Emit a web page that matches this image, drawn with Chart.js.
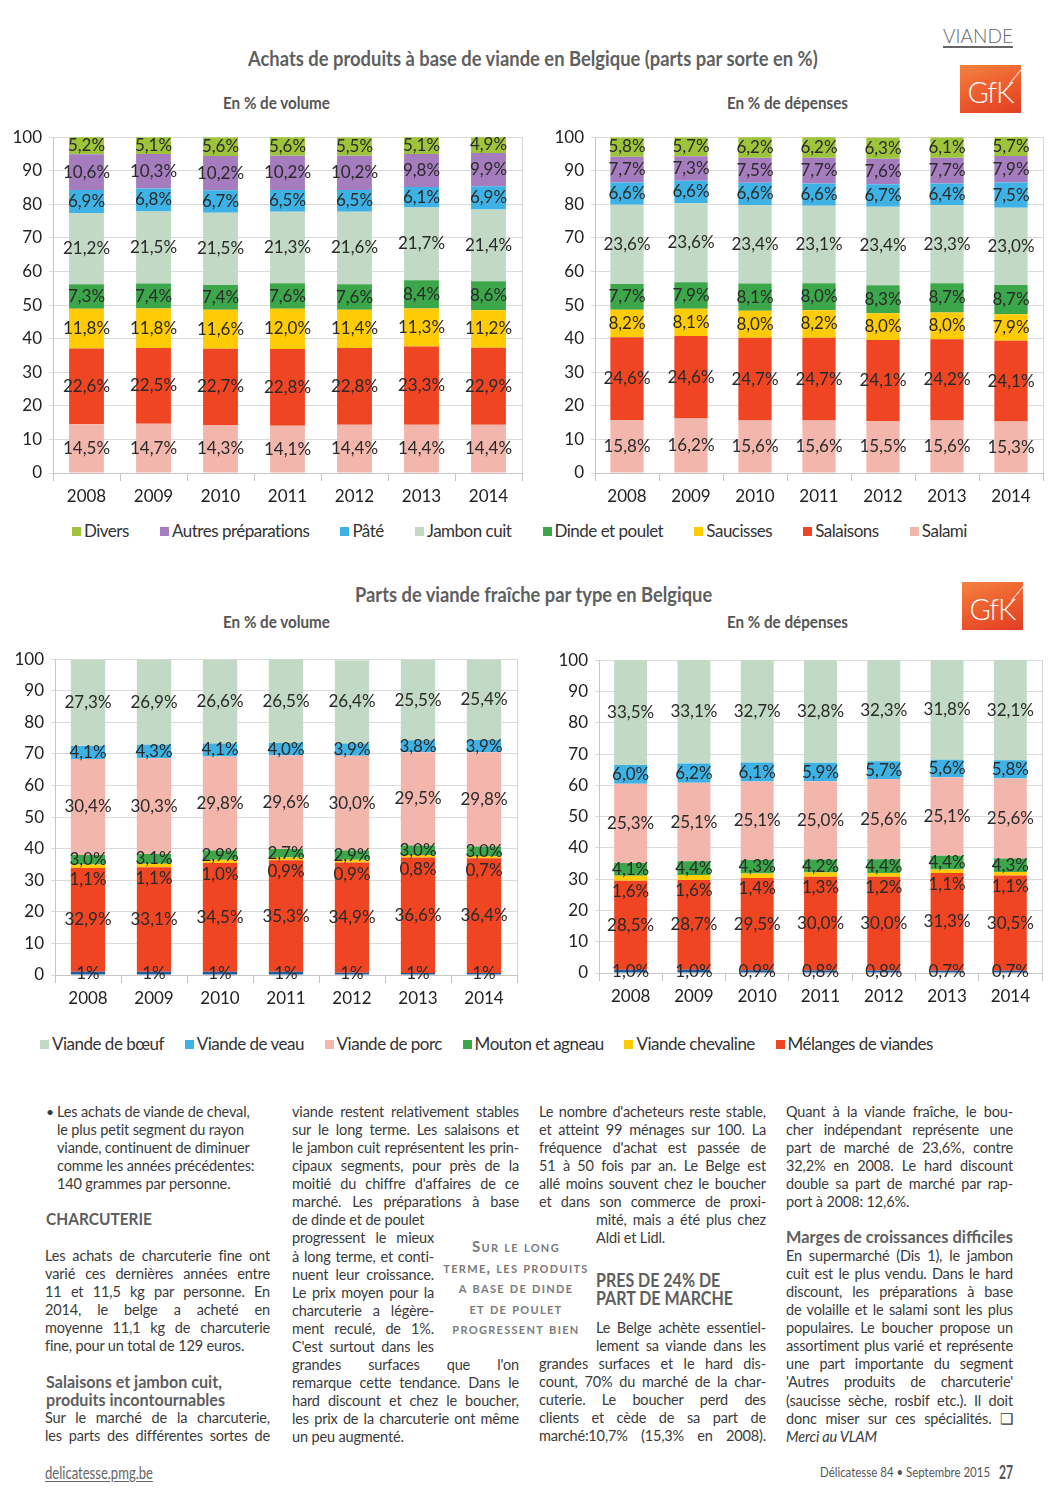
<!DOCTYPE html>
<html lang="fr">
<head>
<meta charset="utf-8">
<title>Viande - Délicatesse 84</title>
<script src="https://cdn.jsdelivr.net/npm/chart.js@4.4.1/dist/chart.umd.min.js"></script>
<style>
html, body { margin: 0; padding: 0; background: #fff; }
#page { position: relative; width: 1058px; height: 1496px; overflow: hidden; font-family: Lato, "Noto Sans", sans-serif; color: #333; }
.t { position: absolute; white-space: nowrap; line-height: 1; }
canvas { position: absolute; }
.ttl { font-size: 21px; font-weight: bold; color: #5f5f5f; }
.sub { font-size: 17px; font-weight: bold; color: #555; }
.gfk { position: absolute; width: 61px; height: 48px; background: linear-gradient(160deg, #f4823f 0%, #ec5a2c 55%, #e23d24 100%); overflow: hidden; }
.gfk span { position: absolute; left: 0; right: 0; top: 9px; text-align: center; color: #fff; font: 300 29px Lato, sans-serif; letter-spacing: -1px; }
.gfk i { position: absolute; right: 3px; top: -4px; width: 1px; height: 26px; background: #fde3d6; transform: rotate(40deg); }
.legend { position: absolute; display: flex; justify-content: space-between; white-space: nowrap; font-size: 17px; letter-spacing: -0.5px; color: #333; }
.legend .it { display: flex; align-items: center; }
.legend .sw { width: 9px; height: 9px; margin-right: 3px; margin-top: 1px; }
.col { position: absolute; width: 227px; font-size: 14.5px; line-height: 18.07px; color: #3a3a3a; letter-spacing: -0.15px; }
.col div { white-space: nowrap; overflow: visible; }
.col .j { text-align: justify; text-align-last: justify; }
.col .n { width: 142px; }
.col .in { margin-left: 57px; }
.hd { position: absolute; white-space: nowrap; font-weight: bold; color: #5e5e5e; font-size: 17.5px; line-height: 18px; }
.quote { position: absolute; left: 436px; width: 160px; text-align: center; font-weight: bold; font-variant: small-caps; color: #7a7a7a; font-size: 15px; line-height: 20.5px; letter-spacing: 1.3px; }
</style>
</head>
<body>
<div id="page">
  <div class="t" data-w="70" style="left:943px;top:25px;font-size:20px;font-weight:300;color:#666;text-decoration:underline;text-underline-offset:3px;">VIANDE</div>

  <div class="t ttl" data-w="570" style="left:248px;top:47px;">Achats de produits à base de viande en Belgique (parts par sorte en %)</div>
  <div class="t sub" data-w="107" style="left:223px;top:94px;">En % de volume</div>
  <div class="t sub" data-w="121" style="left:727px;top:94px;">En % de dépenses</div>
  <div class="gfk" style="left:960px;top:65px;"><i></i><span>GfK</span></div>

  <canvas id="charcVol"></canvas>
  <canvas id="charcDep"></canvas>
  <div class="legend" id="legendTop" style="left:72px;top:520px;width:895px;"></div>

  <div class="t ttl" data-w="357" style="left:355px;top:583px;">Parts de viande fraîche par type en Belgique</div>
  <div class="t sub" data-w="107" style="left:223px;top:613px;">En % de volume</div>
  <div class="t sub" data-w="121" style="left:727px;top:613px;">En % de dépenses</div>
  <div class="gfk" style="left:962px;top:582px;"><i></i><span>GfK</span></div>

  <canvas id="freshVol"></canvas>
  <canvas id="freshDep"></canvas>
  <div class="legend" id="legendBottom" style="left:40px;top:1033px;width:893px;"></div>

  <!-- colonne 1 -->
  <div class="t" style="left:46px;top:1103px;font-size:14px;line-height:18px;color:#3a3a3a;">•</div>
  <div class="col" style="left:57px;top:1103px;width:215px;">
    <div>Les achats de viande de cheval,</div>
    <div>le plus petit segment du rayon</div>
    <div>viande, continuent de diminuer</div>
    <div>comme les années précédentes:</div>
    <div>140 grammes par personne.</div>
  </div>
  <div class="hd" data-w="106" style="left:46px;top:1210px;">CHARCUTERIE</div>
  <div class="col" style="left:45px;top:1247px;width:225px;">
    <div class="j">Les achats de charcuterie fine ont</div>
    <div class="j">varié ces dernières années entre</div>
    <div class="j">11 et 11,5 kg par personne. En</div>
    <div class="j">2014, le belge a acheté en</div>
    <div class="j">moyenne 11,1 kg de charcuterie</div>
    <div>fine, pour un total de 129 euros.</div>
  </div>
  <div class="hd" data-w="179" style="left:46px;top:1373px;">Salaisons et jambon cuit,<br>produits incontournables</div>
  <div class="col" style="left:45px;top:1409px;width:225px;">
    <div class="j">Sur le marché de la charcuterie,</div>
    <div class="j">les parts des différentes sortes de</div>
  </div>

  <!-- colonne 2 -->
  <div class="col" style="left:292px;top:1103px;">
    <div class="j">viande restent relativement stables</div>
    <div class="j">sur le long terme. Les salaisons et</div>
    <div class="j">le jambon cuit représentent les prin-</div>
    <div class="j">cipaux segments, pour près de la</div>
    <div class="j">moitié du chiffre d'affaires de ce</div>
    <div class="j">marché. Les préparations à base</div>
    <div class="n">de dinde et de poulet</div>
    <div class="j n">progressent le mieux</div>
    <div class="j n">à long terme, et conti-</div>
    <div class="j n">nuent leur croissance.</div>
    <div class="j n">Le prix moyen pour la</div>
    <div class="j n">charcuterie a légère-</div>
    <div class="j n">ment reculé, de 1%.</div>
    <div class="j n">C'est surtout dans les</div>
    <div class="j">grandes surfaces que l'on</div>
    <div class="j">remarque cette tendance. Dans le</div>
    <div class="j">hard discount et chez le boucher,</div>
    <div class="j">les prix de la charcuterie ont même</div>
    <div>un peu augmenté.</div>
  </div>
  <div class="quote" style="top:1236px;">
    Sur le long<br>terme, les produits<br>a base de dinde<br>et de poulet<br>progressent bien
  </div>

  <!-- colonne 3 -->
  <div class="col" style="left:539px;top:1103px;">
    <div class="j">Le nombre d'acheteurs reste stable,</div>
    <div class="j">et atteint 99 ménages sur 100. La</div>
    <div class="j">fréquence d'achat est passée de</div>
    <div class="j">51 à 50 fois par an. Le Belge est</div>
    <div class="j">allé moins souvent chez le boucher</div>
    <div class="j">et dans son commerce de proxi-</div>
    <div class="j in" style="width:170px;">mité, mais a été plus chez</div>
    <div class="in">Aldi et Lidl.</div>
  </div>
  <div class="hd" data-w="137" style="left:596px;top:1271px;font-size:18.5px;">PRES DE 24% DE<br>PART DE MARCHE</div>
  <div class="col" style="left:539px;top:1319px;">
    <div class="j in" style="width:170px;">Le Belge achète essentiel-</div>
    <div class="j in" style="width:170px;">lement sa viande dans les</div>
    <div class="j">grandes surfaces et le hard dis-</div>
    <div class="j">count, 70% du marché de la char-</div>
    <div class="j">cuterie. Le boucher perd des</div>
    <div class="j">clients et cède de sa part de</div>
    <div class="j">marché:10,7% (15,3% en 2008).</div>
  </div>

  <!-- colonne 4 -->
  <div class="col" style="left:786px;top:1103px;">
    <div class="j">Quant à la viande fraîche, le bou-</div>
    <div class="j">cher indépendant représente une</div>
    <div class="j">part de marché de 23,6%, contre</div>
    <div class="j">32,2% en 2008. Le hard discount</div>
    <div class="j">double sa part de marché par rap-</div>
    <div>port à 2008: 12,6%.</div>
  </div>
  <div class="hd" data-w="227" style="left:786px;top:1228px;">Marges de croissances difficiles</div>
  <div class="col" style="left:786px;top:1247px;">
    <div class="j">En supermarché (Dis 1), le jambon</div>
    <div class="j">cuit est le plus vendu. Dans le hard</div>
    <div class="j">discount, les préparations à base</div>
    <div class="j">de volaille et le salami sont les plus</div>
    <div class="j">populaires. Le boucher propose un</div>
    <div class="j">assortiment plus varié et représente</div>
    <div class="j">une part importante du segment</div>
    <div class="j">'Autres produits de charcuterie'</div>
    <div class="j">(saucisse sèche, rosbif etc.). Il doit</div>
    <div class="j">donc miser sur ces spécialités. ❑</div>
    <div style="font-style:italic;">Merci au VLAM</div>
  </div>

  <div class="t" data-w="108" style="left:45px;top:1463px;font-size:18px;color:#666;text-decoration:underline;text-underline-offset:2px;">delicatesse.pmg.be</div>
  <div class="t" data-w="170" style="left:820px;top:1466px;font-size:13px;color:#555;">Délicatesse 84 • Septembre 2015</div>
  <div class="t" data-w="14" style="left:999px;top:1462px;font-size:19px;font-weight:bold;color:#555;">27</div>
</div>

<script>
// années et graduations
const years = ['2008', '2009', '2010', '2011', '2012', '2013', '2014'];
const yTickValues = [0, 10, 20, 30, 40, 50, 60, 70, 80, 90, 100];

// charcuterie, du bas vers le haut de la pile
const charcNames = ['Salami', 'Salaisons', 'Saucisses', 'Dinde et poulet', 'Jambon cuit', 'Pâté', 'Autres préparations', 'Divers'];
const charcColors = ['#f3b6ad', '#ef4523', '#ffcb05', '#3ba64a', '#c1d9c5', '#3fb2e5', '#a57cbd', '#9dc43b'];

// en % de volume
const salamiVol    = [14.5, 14.7, 14.3, 14.1, 14.4, 14.4, 14.4];
const salaisonsVol = [22.6, 22.5, 22.7, 22.8, 22.8, 23.3, 22.9];
const saucissesVol = [11.8, 11.8, 11.6, 12.0, 11.4, 11.3, 11.2];
const dindeVol     = [7.3, 7.4, 7.4, 7.6, 7.6, 8.4, 8.6];
const jambonVol    = [21.2, 21.5, 21.5, 21.3, 21.6, 21.7, 21.4];
const pateVol      = [6.9, 6.8, 6.7, 6.5, 6.5, 6.1, 6.9];
const autresVol    = [10.6, 10.3, 10.2, 10.2, 10.2, 9.8, 9.9];
const diversVol    = [5.2, 5.1, 5.6, 5.6, 5.5, 5.1, 4.9];

// en % de dépenses
const salamiDep    = [15.8, 16.2, 15.6, 15.6, 15.5, 15.6, 15.3];
const salaisonsDep = [24.6, 24.6, 24.7, 24.7, 24.1, 24.2, 24.1];
const saucissesDep = [8.2, 8.1, 8.0, 8.2, 8.0, 8.0, 7.9];
const dindeDep     = [7.7, 7.9, 8.1, 8.0, 8.3, 8.7, 8.7];
const jambonDep    = [23.6, 23.6, 23.4, 23.1, 23.4, 23.3, 23.0];
const pateDep      = [6.6, 6.6, 6.6, 6.6, 6.7, 6.4, 7.5];
const autresDep    = [7.7, 7.3, 7.5, 7.7, 7.6, 7.7, 7.9];
const diversDep    = [5.8, 5.7, 6.2, 6.2, 6.3, 6.1, 5.7];

// viande fraîche, du bas vers le haut (la première série n'est pas dans la légende)
const freshNames = ['', 'Mélanges de viandes', 'Viande chevaline', 'Mouton et agneau', 'Viande de porc', 'Viande de veau', 'Viande de bœuf'];
const freshColors = ['#1f5c9e', '#ef4523', '#ffcb05', '#3ba64a', '#f3b6ad', '#3fb2e5', '#c1d9c5'];

const autreVol     = [1.0, 1.0, 1.0, 1.0, 0.7, 0.6, 0.6];
const melangesVol  = [32.9, 33.1, 34.5, 35.3, 34.9, 36.6, 36.4];
const chevalineVol = [1.1, 1.1, 1.0, 0.9, 0.9, 0.8, 0.7];
const moutonVol    = [3.0, 3.1, 2.9, 2.7, 2.9, 3.0, 3.0];
const porcVol      = [30.4, 30.3, 29.8, 29.6, 30.0, 29.5, 29.8];
const veauVol      = [4.1, 4.3, 4.1, 4.0, 3.9, 3.8, 3.9];
const boeufVol     = [27.3, 26.9, 26.6, 26.5, 26.4, 25.5, 25.4];

const autreDep     = [1.0, 1.0, 0.9, 0.8, 0.8, 0.7, 0.7];
const melangesDep  = [28.5, 28.7, 29.5, 30.0, 30.0, 31.3, 30.5];
const chevalineDep = [1.6, 1.6, 1.4, 1.3, 1.2, 1.1, 1.1];
const moutonDep    = [4.1, 4.4, 4.3, 4.2, 4.4, 4.4, 4.3];
const porcDep      = [25.3, 25.1, 25.1, 25.0, 25.6, 25.1, 25.6];
const veauDep      = [6.0, 6.2, 6.1, 5.9, 5.7, 5.6, 5.8];
const boeufDep     = [33.5, 33.1, 32.7, 32.8, 32.3, 31.8, 32.1];

Chart.defaults.font.family = 'Lato, "Noto Sans", sans-serif';
Chart.defaults.color = '#222';

// étiquettes au centre de chaque segment
const segmentLabels = {
    id: 'segmentLabels',
    afterDatasetsDraw(chart) {
        const ctx = chart.ctx;
        ctx.save();
        ctx.font = '17px Lato, "Noto Sans", sans-serif';
        ctx.fillStyle = '#2a2a2a';
        ctx.textAlign = 'center';
        ctx.textBaseline = 'middle';
        chart.data.datasets.forEach((ds, i) => {
            chart.getDatasetMeta(i).data.forEach((bar, j) => {
                const txt = ds.data[j].toFixed(ds.decimals ?? 1).replace('.', ',') + '%';
                const y = (bar.y + bar.base) / 2 + (ds.labelShift || 0);
                ctx.fillText(txt, bar.x, y);
            });
        });
        ctx.restore();
    }
};

// bord droit de la zone de tracé
const plotFrame = {
    id: 'plotFrame',
    beforeDatasetsDraw(chart) {
        const { ctx, chartArea: a } = chart;
        ctx.save();
        ctx.strokeStyle = '#d6d6d6';
        ctx.lineWidth = 1;
        ctx.beginPath();
        ctx.moveTo(Math.round(a.right) + 0.5, a.top);
        ctx.lineTo(Math.round(a.right) + 0.5, a.bottom);
        ctx.stroke();
        ctx.restore();
    }
};

function buildDatasets(names, colors, series, extra = {}) {
    return () => series.map((data, i) => Object.assign({
        label: names[i],
        data: data.slice(),
        backgroundColor: colors[i],
        borderWidth: 0,
        categoryPercentage: 1,
        barPercentage: 0.52
    }, extra[i] || {}));
}

function drawChart(cv, w, h, datasets) {
    const axisW = 50, axisH = 42;
    cv.width = w;
    cv.height = h;
    cv.style.width = w + 'px';
    cv.style.height = h + 'px';
    return new Chart(cv, {
        type: 'bar',
        data: { labels: years, datasets: datasets() },
        options: {
            responsive: false,
            animation: false,
            layout: { padding: { top: 4, right: 12, left: 0, bottom: 0 } },
            plugins: { legend: { display: false }, tooltip: { enabled: false } },
            scales: {
                x: {
                    stacked: true,
                    afterFit: s => { s.height = axisH; },
                    grid: { offset: true, drawOnChartArea: false, tickLength: 8, color: '#c6c6c6' },
                    border: { color: '#c6c6c6' },
                    ticks: { font: { size: 17 }, color: '#222', padding: 5 }
                },
                y: {
                    stacked: true,
                    min: 0,
                    max: 100,
                    afterFit: s => { s.width = axisW; },
                    afterBuildTicks: s => { s.ticks = yTickValues.map(v => ({ value: v })); },
                    grid: { color: '#dadada', tickLength: 4 },
                    border: { color: '#c6c6c6' },
                    ticks: { font: { size: 17 }, color: '#222', padding: 7 }
                }
            }
        },
        plugins: [plotFrame, segmentLabels]
    });
}

// la zone de tracé est calée sur le rectangle voulu
function makeChart(id, plot, datasets) {
    const cv = document.getElementById(id);
    let w = plot.r - plot.l + 62;
    let h = plot.b - plot.t + 60;
    let chart = drawChart(cv, w, h, datasets);
    let a = chart.chartArea;
    w += (plot.r - plot.l) - (a.right - a.left);
    h += (plot.b - plot.t) - (a.bottom - a.top);
    chart.destroy();
    chart = drawChart(cv, w, h, datasets);
    a = chart.chartArea;
    cv.style.left = (plot.l - a.left) + 'px';
    cv.style.top = (plot.t - a.top) + 'px';
    return chart;
}

makeChart('charcVol', { l: 53, t: 137, r: 522, b: 473 },
    buildDatasets(charcNames, charcColors,
        [salamiVol, salaisonsVol, saucissesVol, dindeVol, jambonVol, pateVol, autresVol, diversVol]));

makeChart('charcDep', { l: 595, t: 137, r: 1043, b: 473 },
    buildDatasets(charcNames, charcColors,
        [salamiDep, salaisonsDep, saucissesDep, dindeDep, jambonDep, pateDep, autresDep, diversDep]));

makeChart('freshVol', { l: 55, t: 659, r: 517, b: 975 },
    buildDatasets(freshNames, freshColors,
        [autreVol, melangesVol, chevalineVol, moutonVol, porcVol, veauVol, boeufVol],
        { 0: { decimals: 0 }, 2: { labelShift: 13 } }));

makeChart('freshDep', { l: 599, t: 660, r: 1042, b: 973 },
    buildDatasets(freshNames, freshColors,
        [autreDep, melangesDep, chevalineDep, moutonDep, porcDep, veauDep, boeufDep],
        { 2: { labelShift: 13 } }));

// légendes : du haut vers le bas de la pile
function buildLegend(elId, names, colors) {
    const el = document.getElementById(elId);
    for (let i = names.length - 1; i >= 0; i--) {
        if (!names[i]) continue;
        const it = document.createElement('div');
        it.className = 'it';
        const sw = document.createElement('span');
        sw.className = 'sw';
        sw.style.background = colors[i];
        it.appendChild(sw);
        it.appendChild(document.createTextNode(names[i]));
        el.appendChild(it);
    }
}
buildLegend('legendTop', charcNames, charcColors);
buildLegend('legendBottom', freshNames, freshColors);

// titres en largeur fixe (police étroite absente) et lignes de colonnes resserrées
function fitText() {
    document.querySelectorAll('[data-w]').forEach(el => {
        el.style.transform = 'none';
        const nat = el.getBoundingClientRect().width;
        el.style.transformOrigin = 'left center';
        el.style.transform = 'scaleX(' + (+el.dataset.w / nat).toFixed(3) + ')';
    });
    document.querySelectorAll('.col > div').forEach(el => {
        let ls = -0.15;
        el.style.letterSpacing = '';
        while (el.scrollWidth > el.clientWidth + 0.5 && ls > -1.5) {
            ls -= 0.1;
            el.style.letterSpacing = ls.toFixed(2) + 'px';
        }
    });
}
fitText();
document.fonts.ready.then(fitText);
</script>
</body>
</html>
